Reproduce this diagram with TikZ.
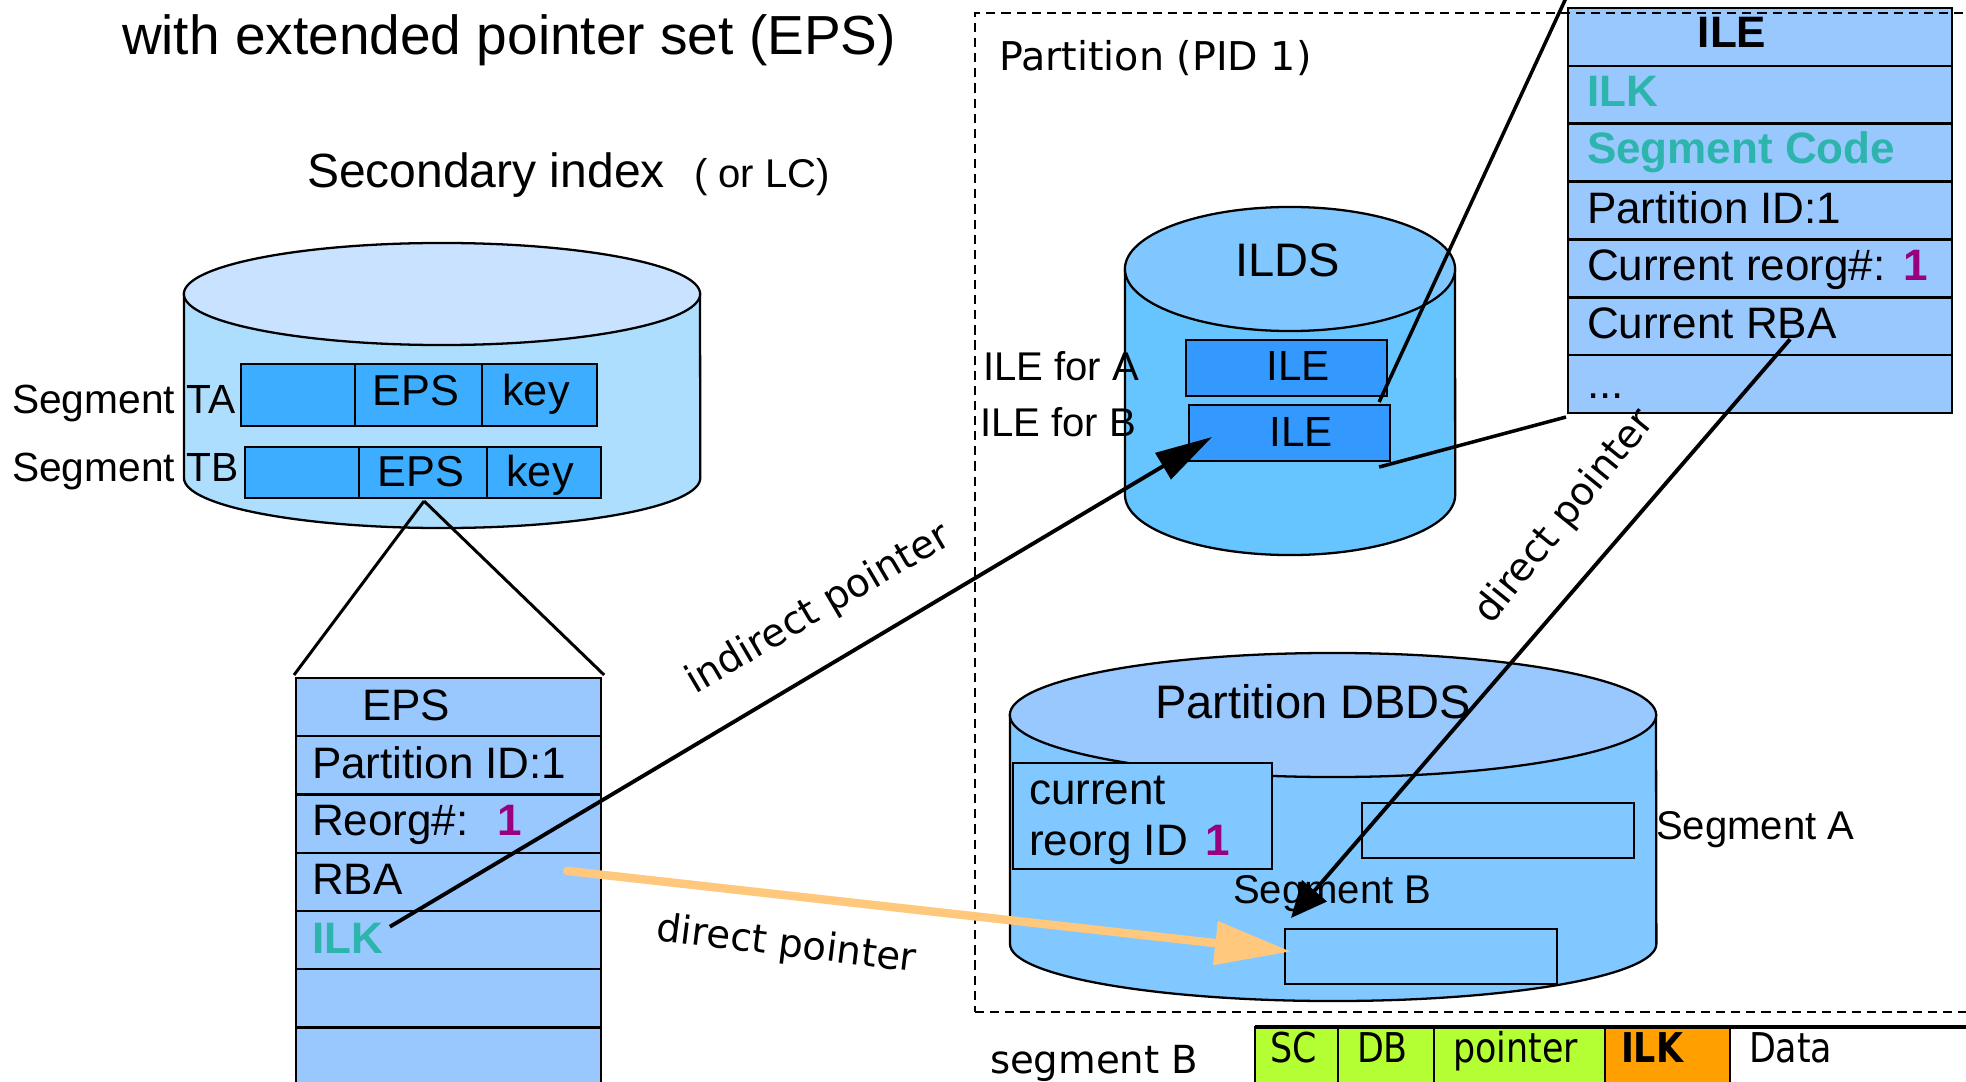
\documentclass[tikz,border=0pt]{standalone}
\usepackage{fontspec}
\setmainfont{Liberation Sans}
\newfontfamily\humsans{DejaVu Sans}
\newfontfamily\humsansnarrow[FakeStretch=0.85]{DejaVu Sans}
\usetikzlibrary{arrows.meta}

\definecolor{siTop}{HTML}{C9E2FF}
\definecolor{siBody}{HTML}{ADDEFE}
\definecolor{segRow}{HTML}{3DAEFF}
\definecolor{tblFill}{HTML}{99C8FF}
\definecolor{ildsTop}{HTML}{80C6FF}
\definecolor{ildsBody}{HTML}{66C4FF}
\definecolor{ileFill}{HTML}{3399FF}
\definecolor{dbTop}{HTML}{99C8FF}
\definecolor{dbBody}{HTML}{80C8FF}
\definecolor{reorgNum}{HTML}{990080}
\definecolor{keyTeal}{HTML}{2DB5AD}
\definecolor{directOrange}{HTML}{FFC87D}
\definecolor{stripGreen}{HTML}{B3FF33}
\definecolor{stripOrange}{HTML}{FF9F00}

\begin{document}
\begin{tikzpicture}[x=0.01cm, y=-0.01cm,
  txt/.style={inner sep=0, outer sep=0, anchor=base west, font=\fontsize{#1}{#1}\selectfont},
  ctxt/.style={inner sep=0, outer sep=0, anchor=base, font=\fontsize{#1}{#1}\selectfont},
  cellbox/.style={draw=black, line width=0.7pt, inner sep=0, outer sep=0, anchor=north west},
  drumline/.style={draw=black, line width=0.65pt},
  tri/.style={draw=black, line width=0.85pt},
  ptr/.style={draw=black, line width=1.1pt},
  zoomln/.style={draw=black, line width=1pt},
  partbox/.style={draw=black, line width=0.6pt, dash pattern=on 2.6pt off 1.7pt, inner sep=0, anchor=north west},
  pur/.style={text=reorgNum, font=\fontsize{12.52}{12.52}\selectfont\bfseries},
]
\useasboundingbox (0,0) rectangle (1966,1082);
\clip (0,0) rectangle (1966,1082);

% ---------- headings ----------
\node[txt=15.65] (title) at (122,55) {with extended pointer set (EPS)};
\node[txt=13.66] (sihead) at (307,188) {Secondary index};
\node[txt=11.4] (silc) at (694,188) {( or LC)};

% ---------- secondary index cylinder ----------
\filldraw[drumline, fill=siBody] (184,294) -- (184,478)
  arc[start angle=180, end angle=360, x radius=2.58cm, y radius=0.50cm] -- (700,294) -- cycle;
\filldraw[drumline, fill=siTop] (442,294) ellipse[x radius=2.58cm, y radius=0.51cm];

\node[cellbox, fill=segRow, minimum width=1.14cm, minimum height=0.62cm] (taA) at (241,364) {};
\node[cellbox, fill=segRow, minimum width=1.27cm, minimum height=0.62cm] (taE) at (355,364) {};
\node[cellbox, fill=segRow, minimum width=1.15cm, minimum height=0.62cm] (taK) at (482,364) {};
\node[cellbox, fill=segRow, minimum width=1.14cm, minimum height=0.51cm] (tbA) at (245,447) {};
\node[cellbox, fill=segRow, minimum width=1.28cm, minimum height=0.51cm] (tbE) at (359,447) {};
\node[cellbox, fill=segRow, minimum width=1.14cm, minimum height=0.51cm] (tbK) at (487,447) {};
\node[ctxt=12.3] (taEt) at (416,405) {EPS};
\node[ctxt=12.3] (taKt) at (536,405) {key};
\node[ctxt=12.3] (tbEt) at (421,486) {EPS};
\node[ctxt=12.3] (tbKt) at (540,486) {key};
\node[txt=11.58] (lta) at (12,413) {Segment TA};
\node[txt=11.58] (ltb) at (12,481) {Segment TB};

% ---------- EPS record ----------
\foreach \i/\y in {0/678,1/736.25,2/794.5,3/852.75,4/911,5/969.25,6/1027.5,7/1085.75}
  \node[cellbox, fill=tblFill, minimum width=3.05cm, minimum height=0.5825cm] (eps\i) at (296,\y) {};
\node[txt=12.52] (epsH) at (362,720) {EPS};
\node[txt=12.52] (epsPid) at (312,778) {Partition ID:1};
\node[txt=12.52] (epsReorg) at (312,835) {Reorg\#:};
\node[txt=12.52, pur] (epsReorgN) at (497,835) {1};
\node[txt=12.52] (epsRba) at (312,894) {RBA};
\node[txt=12.52, text=keyTeal, font=\fontsize{12.52}{12.52}\selectfont\bfseries] (ilkT) at (312,953) {ILK};

\draw[tri] ([shift={(1,3)}]tbE.south) -- ([shift={(-2,-3)}]eps0.north west);
\draw[tri] ([shift={(1,3)}]tbE.south) -- ([shift={(3,-3)}]eps0.north east);

% ---------- ILDS cylinder ----------
\filldraw[drumline, fill=ildsBody] (1125,269) -- (1125,495)
  arc[start angle=180, end angle=360, x radius=1.65cm, y radius=0.60cm] -- (1455,269) -- cycle;
\filldraw[drumline, fill=ildsTop] (1290,269) ellipse[x radius=1.65cm, y radius=0.62cm];
\node[ctxt=13.37] (ildsT) at (1288,277) {ILDS};
\node[cellbox, fill=ileFill, minimum width=2.01cm, minimum height=0.56cm] (ileA) at (1186,340) {};
\node[cellbox, fill=ileFill, minimum width=2.01cm, minimum height=0.56cm] (ileB) at (1189,405) {};
\node[ctxt=12] (ileAt) at (1298,380) {ILE};
\node[ctxt=12] (ileBt) at (1301,446) {ILE};
\node[txt=11.4] (forA) at (983,380) {ILE for A};
\node[txt=11.4] (forB) at (980,436) {ILE for B};

% ---------- partition DBDS cylinder ----------
\filldraw[drumline, fill=dbBody] (1010,715) -- (1010,944)
  arc[start angle=180, end angle=360, x radius=3.23cm, y radius=0.57cm] -- (1656,715) -- cycle;
\filldraw[drumline, fill=dbTop] (1333,715) ellipse[x radius=3.23cm, y radius=0.62cm];
\node[txt=13.37] (dbT) at (1155,718) {Partition DBDS};
\node[cellbox, fill=dbBody, minimum width=2.59cm, minimum height=1.06cm] (curBox) at (1013,763) {};
\node[txt=12.52] (curT1) at (1029,804) {current};
\node[txt=12.52] (curT2) at (1029,855) {reorg ID};
\node[txt=12.52, pur] (curN) at (1205,855) {1};
\node[cellbox, fill=dbBody, minimum width=2.72cm, minimum height=0.55cm] (segA) at (1362,803) {};
\node[txt=11.4] (segAt) at (1656,839) {Segment A};
\node[txt=11.4] (segBt) at (1233,903) {Segment B};
\node[cellbox, fill=dbBody, minimum width=2.72cm, minimum height=0.55cm] (segB) at (1285,929) {};

% ---------- ILE record ----------
\foreach \i/\y in {0/8,1/65.86,2/123.71,3/181.57,4/239.43,5/297.29,6/355.14}
  \node[cellbox, fill=tblFill, minimum width=3.84cm, minimum height=0.5786cm] (ile\i) at (1568,\y) {};
\node[ctxt=12.52, font=\fontsize{12.52}{12.52}\selectfont\bfseries] (ileH) at (1732,48) {ILE};
\node[txt=12.52, text=keyTeal, font=\fontsize{12.52}{12.52}\selectfont\bfseries] (ileIlk) at (1587,107) {ILK};
\node[txt=12.52, text=keyTeal, font=\fontsize{12.52}{12.52}\selectfont\bfseries] (ileSc) at (1587,164) {Segment Code};
\node[txt=12.52] (ilePid) at (1587,224) {Partition ID:1};
\node[txt=12.52] (ileReorg) at (1587,281) {Current reorg\#:};
\node[txt=12.52, pur] (ileReorgN) at (1903,281) {1};
\node[txt=12.52] (ileRba) at (1587,339) {Current RBA};
\node[txt=12.52] (ileMore) at (1587,398) {...};

% ---------- partition frame ----------
\node[partbox, minimum width=10.3cm, minimum height=9.98cm] (part) at (974,12) {};
\node[txt=11.27, font=\humsans\fontsize{11.27}{11.27}\selectfont] (partT) at (999,71) {Partition (PID 1)};

% ---------- segment layout strip ----------
\node[txt=11, font=\humsans\fontsize{11}{11}\selectfont] (stripT) at (990,1073) {segment B};
\node[cellbox, fill=stripGreen, minimum width=0.83cm, minimum height=0.63cm] (sc) at (1255,1027) {};
\node[cellbox, fill=stripGreen, minimum width=0.96cm, minimum height=0.63cm] (db) at (1338,1027) {};
\node[cellbox, fill=stripGreen, minimum width=1.71cm, minimum height=0.63cm] (pt) at (1434,1027) {};
\node[cellbox, fill=stripOrange, minimum width=1.25cm, minimum height=0.63cm] (ilk) at (1605,1027) {};
\node[cellbox, fill=white, minimum width=2.45cm, minimum height=0.63cm] (data) at (1730,1027) {};
\draw[line width=1.1pt] (sc.north west) -- (data.north east);
\node[txt=11.67, font=\humsansnarrow\fontsize{11.67}{11.67}\selectfont] (scT) at (1270,1062) {SC};
\node[txt=11.67, font=\humsansnarrow\fontsize{11.67}{11.67}\selectfont] (dbT2) at (1357,1062) {DB};
\node[txt=11.67, font=\humsansnarrow\fontsize{11.67}{11.67}\selectfont] (ptT) at (1453,1062) {pointer};
\node[txt=11.67, font=\humsansnarrow\fontsize{11.67}{11.67}\selectfont\bfseries] (ilkT2) at (1621,1062) {ILK};
\node[txt=11.67, font=\humsansnarrow\fontsize{11.67}{11.67}\selectfont] (dataT) at (1749,1062) {Data};

% ---------- connectors ----------
\draw[zoomln] ([shift={(-8,6)}]ileA.south east) -- ([shift={(-2,-10)}]ile0.north west);
\draw[zoomln] ([shift={(-11,6)}]ileB.south east) -- ([shift={(-2,4)}]ile6.south west);

\draw[ptr, -{Triangle[length=0.57cm, width=0.30cm]}]
  ([shift={(7,4)}]ilkT.north east) -- ([shift={(23,4)}]ileB.west);
\node[ctxt=11.1, font=\humsans\fontsize{11.1}{11.1}\selectfont, rotate=30.5] (indT) at (824,619) {indirect pointer};

\draw[ptr, -{Triangle[length=0.36cm, width=0.32cm]}]
  ([shift={(30,13)}]ile5.center) -- ([shift={(6,-11)}]segB.north west);
\node[inner sep=0, font=\humsans\fontsize{11}{11}\selectfont, rotate=51] (dirT1) at (1565,517) {direct pointer};

\draw[draw=directOrange, line width=2.4pt, line cap=round,
      -{Triangle[length=0.76cm, width=0.42cm]}]
  ([shift={(-34,-11)}]eps3.east) -- ([shift={(6,-5)}]segB.west);
\node[ctxt=11, font=\humsans\fontsize{11}{11}\selectfont, rotate=-7] (dirT2) at (785,956) {direct pointer};
\end{tikzpicture}
\end{document}
